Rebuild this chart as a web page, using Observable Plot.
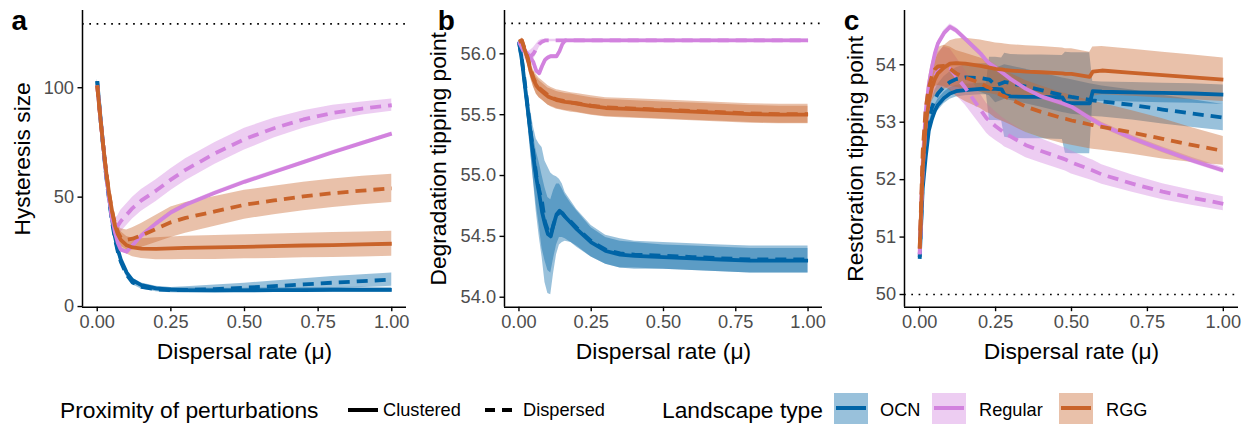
<!DOCTYPE html>
<html><head><meta charset="utf-8">
<script src="https://cdn.jsdelivr.net/npm/d3@7"></script>
<script src="https://cdn.jsdelivr.net/npm/@observablehq/plot@0.6"></script>
<style>
body{margin:0;background:#fff;font-family:"Liberation Sans",Arial,sans-serif;}
#root{position:relative;width:1248px;height:424px;overflow:hidden;background:#fff;}
.panel{position:absolute;top:0;}
.lg{position:absolute;white-space:nowrap;top:396px;height:28px;line-height:28px;color:#000;}
.box{position:absolute;top:393px;width:34px;height:31px;}
.box div{position:absolute;left:2px;right:2px;top:13px;height:4px;}
</style></head><body><div id="root"></div>
<script>
// ---------- categories ----------
const landscapeTypes = ["OCN", "Regular", "RGG"];
const typeColors = ["#0064A6", "#D282DE", "#C9632A"];
const proximities = ["Clustered", "Dispersed"];
const xTicks = [0, 0.25, 0.5, 0.75, 1];
const xTitle = "Dispersal rate (\u03bc)";
const legendTitles = ["Proximity of perturbations", "Landscape type"];

// ---------- panel a : hysteresis size ----------
const xA = [0, 0.01, 0.02, 0.03, 0.04, 0.05, 0.06, 0.07, 0.08, 0.1, 0.12, 0.15, 0.2, 0.25, 0.3, 0.4, 0.5, 0.6, 0.7, 0.8, 0.9, 1.0];
const aOcnClu   = [103, 88, 74, 61, 50, 40, 32, 26, 21.5, 15.5, 12, 9.8, 8.3, 7.7, 7.5, 7.4, 7.4, 7.5, 7.5, 7.6, 7.6, 7.6];
const aOcnCluSd = [1, 1, 1, 1, 1, 1, 1, 1, 1, 1, 1, 1, 1, 1, 1, 1, 1, 1, 1.1, 1.1, 1.2, 1.2];
const aOcnDis   = [103, 87, 73, 60, 49, 39, 31, 25, 20.5, 14.5, 11, 9, 7.8, 7.5, 7.6, 8.0, 8.6, 9.3, 10.1, 10.9, 11.6, 12.3];
const aOcnDisSd = [1, 1, 1, 1, 1, 1, 1, 1, 1, 1, 1, 1, 1, 1.2, 1.4, 1.8, 2.1, 2.4, 2.6, 2.8, 2.9, 3];
const aRegClu   = [101, 87, 74, 61, 50, 41, 34, 29, 26, 25, 28, 32.5, 38, 43, 46.5, 52, 57, 61.5, 66, 70.5, 74.8, 79];
const aRegCluSd = [0.8, 0.8, 0.8, 0.8, 0.8, 0.8, 0.8, 0.8, 0.8, 0.8, 0.8, 0.8, 0.8, 0.8, 0.8, 0.8, 0.8, 0.8, 0.8, 0.8, 0.8, 0.8];
const aRegDis   = [101, 87, 74, 61, 50, 40, 36, 37, 39, 42, 45, 48.5, 53, 58, 62.5, 70, 76.5, 81.5, 85.5, 88.5, 90.5, 92];
const aRegDisSd = [1, 1.5, 2, 2.5, 3, 3.5, 4, 4.5, 5, 5, 5, 5, 5, 5, 5, 5, 5, 4.5, 4, 3.5, 3, 2.8];
const aRggClu   = [101, 87, 74, 62, 52, 44, 37, 33, 30.5, 28, 27, 26.5, 26.4, 26.6, 26.8, 27, 27.3, 27.6, 27.9, 28.1, 28.4, 28.7];
const aRggCluSd = [1, 1, 1.2, 1.5, 2, 2.5, 3, 3.5, 3.8, 4, 4.2, 4.5, 5, 5.2, 5.3, 5.5, 5.5, 5.6, 5.6, 5.7, 5.7, 5.7];
const aRggDis   = [101, 87, 74, 62, 52, 44, 38, 34, 31.5, 30.5, 31, 32.5, 35.5, 38.5, 40.5, 43.5, 46.5, 48.5, 50.3, 51.8, 53, 54];
const aRggDisSd = [1, 1, 1.2, 1.5, 2, 2.5, 3, 3.5, 4, 4.5, 5, 5.5, 6.2, 7, 7, 6.8, 6.6, 6.5, 6.5, 6.5, 6.5, 6.5];

// ---------- panel b : degradation tipping point ----------
const xB = [0, 0.01, 0.02, 0.03, 0.04, 0.05, 0.06, 0.07, 0.08, 0.09, 0.1, 0.11, 0.12, 0.13, 0.14, 0.15, 0.16, 0.18, 0.2, 0.25, 0.3, 0.35, 0.4, 0.5, 0.6, 0.7, 0.8, 0.9, 1];
const bOcnClu   = [56.1, 55.95, 55.75, 55.55, 55.35, 55.15, 54.98, 54.85, 54.7, 54.6, 54.52, 54.5, 54.6, 54.68, 54.71, 54.69, 54.66, 54.61, 54.56, 54.45, 54.38, 54.35, 54.34, 54.33, 54.32, 54.31, 54.3, 54.3, 54.3];
const bOcnCluSd = [0, 0.03, 0.06, 0.1, 0.14, 0.18, 0.22, 0.26, 0.3, 0.3, 0.3, 0.3, 0.28, 0.25, 0.22, 0.2, 0.18, 0.16, 0.15, 0.12, 0.11, 0.11, 0.11, 0.1, 0.1, 0.1, 0.1, 0.1, 0.1];
const bOcnDis   = [56.1, 55.96, 55.77, 55.57, 55.37, 55.18, 55.0, 54.88, 54.78, 54.62, 54.55, 54.52, 54.6, 54.67, 54.7, 54.69, 54.66, 54.62, 54.57, 54.46, 54.39, 54.36, 54.35, 54.34, 54.33, 54.32, 54.31, 54.31, 54.31];
const bOcnDisSd = [0, 0.04, 0.08, 0.12, 0.17, 0.22, 0.3, 0.38, 0.45, 0.5, 0.52, 0.5, 0.4, 0.32, 0.27, 0.24, 0.2, 0.17, 0.15, 0.13, 0.12, 0.12, 0.11, 0.11, 0.11, 0.11, 0.11, 0.11, 0.11];
const bRegClu   = [56.1, 56.07, 56.03, 56.0, 55.97, 55.93, 55.86, 55.84, 55.9, 55.95, 55.97, 55.98, 55.98, 55.98, 56.02, 56.08, 56.11, 56.11, 56.11, 56.11, 56.11, 56.11, 56.11, 56.11, 56.11, 56.11, 56.11, 56.11, 56.11];
const bRegCluSd = [0, 0.015, 0.015, 0.015, 0.015, 0.015, 0.015, 0.015, 0.015, 0.015, 0.015, 0.015, 0.015, 0.015, 0.015, 0.015, 0.01, 0.01, 0.01, 0.01, 0.01, 0.01, 0.01, 0.01, 0.01, 0.01, 0.01, 0.01, 0.01];
const bRegDis   = [56.1, 56.05, 56.0, 55.97, 55.98, 56.0, 56.04, 56.08, 56.1, 56.11, 56.11, 56.11, 56.11, 56.11, 56.11, 56.11, 56.11, 56.11, 56.11, 56.11, 56.11, 56.11, 56.11, 56.11, 56.11, 56.11, 56.11, 56.11, 56.11];
const bRegDisSd = [0, 0.03, 0.04, 0.05, 0.05, 0.05, 0.04, 0.03, 0.02, 0.01, 0.01, 0.01, 0.01, 0.01, 0.01, 0.01, 0.01, 0.01, 0.01, 0.01, 0.01, 0.01, 0.01, 0.01, 0.01, 0.01, 0.01, 0.01, 0.01];
const bRggClu   = [56.1, 56.11, 56.03, 55.96, 55.86, 55.79, 55.74, 55.71, 55.69, 55.67, 55.65, 55.64, 55.63, 55.62, 55.615, 55.61, 55.605, 55.6, 55.59, 55.57, 55.555, 55.55, 55.545, 55.535, 55.525, 55.515, 55.505, 55.5, 55.5];
const bRggCluSd = [0, 0.02, 0.04, 0.05, 0.06, 0.06, 0.07, 0.07, 0.07, 0.07, 0.07, 0.07, 0.07, 0.07, 0.07, 0.07, 0.07, 0.07, 0.07, 0.07, 0.07, 0.07, 0.07, 0.07, 0.07, 0.07, 0.07, 0.07, 0.07];
const bRggDis   = [56.1, 56.11, 56.04, 55.97, 55.88, 55.8, 55.75, 55.72, 55.7, 55.68, 55.66, 55.645, 55.635, 55.625, 55.62, 55.615, 55.61, 55.6, 55.595, 55.575, 55.56, 55.555, 55.55, 55.54, 55.53, 55.52, 55.51, 55.505, 55.505];
const bRggDisSd = [0, 0.02, 0.04, 0.05, 0.06, 0.07, 0.08, 0.08, 0.08, 0.08, 0.08, 0.08, 0.08, 0.08, 0.08, 0.08, 0.08, 0.08, 0.08, 0.08, 0.08, 0.08, 0.08, 0.08, 0.08, 0.08, 0.08, 0.08, 0.08];

// ---------- panel c : restoration tipping point ----------
const xC = [0, 0.01, 0.02, 0.03, 0.04, 0.05, 0.06, 0.08, 0.1, 0.12, 0.15, 0.2, 0.22, 0.23, 0.25, 0.27, 0.28, 0.3, 0.35, 0.4, 0.47, 0.48, 0.5, 0.56, 0.57, 0.6, 0.7, 0.8, 0.9, 1];
const cOcnClu   = [50.62, 51.85, 52.4, 52.85, 53.05, 53.2, 53.3, 53.42, 53.5, 53.54, 53.56, 53.58, 53.58, 53.58, 53.58, 53.57, 53.47, 53.45, 53.44, 53.44, 53.43, 53.34, 53.33, 53.33, 53.54, 53.53, 53.52, 53.51, 53.5, 53.48];
const cOcnCluSd = [0.02, 0.08, 0.1, 0.1, 0.1, 0.1, 0.1, 0.1, 0.1, 0.1, 0.1, 0.1, 0.1, 0.55, 0.55, 0.55, 0.73, 0.73, 0.73, 0.73, 0.73, 0.88, 0.88, 0.88, 0.17, 0.17, 0.17, 0.17, 0.17, 0.17];
const cOcnDis   = [50.65, 52.0, 52.7, 53.05, 53.25, 53.4, 53.5, 53.62, 53.7, 53.75, 53.78, 53.77, 53.75, 53.74, 53.64, 53.68, 53.7, 53.68, 53.62, 53.56, 53.47, 53.46, 53.44, 53.39, 53.38, 53.36, 53.3, 53.22, 53.15, 53.08];
const cOcnDisSd = [0.02, 0.08, 0.1, 0.12, 0.14, 0.15, 0.16, 0.17, 0.18, 0.2, 0.22, 0.25, 0.27, 0.28, 0.3, 0.3, 0.3, 0.3, 0.3, 0.3, 0.3, 0.3, 0.3, 0.28, 0.28, 0.27, 0.26, 0.25, 0.24, 0.23];
const cRegClu   = [50.7, 52.3, 53.2, 53.65, 53.95, 54.2, 54.37, 54.55, 54.66, 54.6, 54.45, 54.2, 54.07, 54.02, 53.95, 53.87, 53.83, 53.75, 53.58, 53.45, 53.33, 53.31, 53.27, 53.07, 53.04, 52.95, 52.72, 52.52, 52.33, 52.16];
const cRegCluSd = [0.02, 0.05, 0.05, 0.05, 0.05, 0.05, 0.05, 0.05, 0.05, 0.05, 0.05, 0.05, 0.05, 0.05, 0.05, 0.05, 0.05, 0.05, 0.05, 0.05, 0.05, 0.05, 0.05, 0.05, 0.05, 0.05, 0.05, 0.05, 0.05, 0.05];
const cRegDis   = [50.7, 52.2, 52.95, 53.4, 53.65, 53.8, 53.9, 53.96, 53.93, 53.8, 53.6, 53.22, 53.07, 53.02, 52.93, 52.85, 52.81, 52.75, 52.6, 52.5, 52.37, 52.35, 52.3, 52.18, 52.16, 52.09, 51.93, 51.79, 51.68, 51.58];
const cRegDisSd = [0.02, 0.1, 0.15, 0.2, 0.25, 0.3, 0.32, 0.35, 0.35, 0.33, 0.3, 0.27, 0.26, 0.26, 0.25, 0.24, 0.24, 0.23, 0.22, 0.21, 0.2, 0.2, 0.2, 0.18, 0.18, 0.17, 0.15, 0.14, 0.13, 0.12];
const cRggClu   = [50.8, 52.2, 52.95, 53.35, 53.6, 53.75, 53.85, 53.95, 54.02, 54.03, 54.02, 53.98, 53.96, 53.95, 53.93, 53.92, 53.91, 53.9, 53.88, 53.87, 53.85, 53.84, 53.84, 53.79, 53.88, 53.9, 53.86, 53.82, 53.78, 53.74];
const cRggCluSd = [0.02, 0.1, 0.15, 0.2, 0.25, 0.3, 0.33, 0.38, 0.4, 0.42, 0.44, 0.45, 0.45, 0.45, 0.45, 0.45, 0.45, 0.45, 0.45, 0.45, 0.44, 0.44, 0.44, 0.43, 0.43, 0.42, 0.41, 0.4, 0.39, 0.38];
const cRggDis   = [50.8, 52.5, 53.25, 53.6, 53.8, 53.92, 53.97, 53.98, 53.93, 53.85, 53.78, 53.68, 53.62, 53.6, 53.52, 53.47, 53.45, 53.4, 53.27, 53.18, 53.07, 53.06, 53.03, 52.96, 52.95, 52.92, 52.82, 52.71, 52.6, 52.5];
const cRggDisSd = [0.02, 0.1, 0.15, 0.2, 0.25, 0.3, 0.33, 0.36, 0.38, 0.4, 0.42, 0.44, 0.45, 0.45, 0.45, 0.45, 0.45, 0.45, 0.45, 0.45, 0.44, 0.44, 0.43, 0.42, 0.42, 0.41, 0.38, 0.35, 0.3, 0.25];

// ---------- build ----------
const FONT = '"Liberation Sans", Arial, Helvetica, sans-serif';
const colorOf = t => typeColors[landscapeTypes.indexOf(t)];

function rows(xs, ys, sds, type, prox) {
  return ys.map((v, i) => ({x: xs[i], y: v, lo: v - sds[i], hi: v + sds[i], type, prox}));
}

function panel(cfg) {
  const marks = [];
  const groups = cfg.series.map(s => ({type: s[0], prox: s[1], data: rows(cfg.xs, s[2], s[3], s[0], s[1])}));
  marks.push(Plot.ruleY([cfg.refY], {stroke: "#000", strokeWidth: 1.7, strokeDasharray: "1.7,5.6"}));
  for (const g of groups) {
    marks.push(Plot.areaY(g.data, {x: "x", y1: "lo", y2: "hi", fill: colorOf(g.type), fillOpacity: 0.4, curve: "linear"}));
  }
  for (const g of groups) {
    marks.push(Plot.lineY(g.data, {x: "x", y: "y", stroke: colorOf(g.type), strokeWidth: 3.8,
      strokeDasharray: g.prox === "Dispersed" ? "11,7" : null, strokeLinecap: "butt", strokeLinejoin: "round", curve: "linear"}));
  }
  marks.push(Plot.axisX({ticks: xTicks, tickFormat: d3.format(".2f"), tickSize: 4.5, tickPadding: 3, label: null,
    stroke: "#000", strokeWidth: 1.4, fill: "#4d4d4d", fontSize: 18.2}));
  marks.push(Plot.axisY({ticks: cfg.yTicks, tickFormat: cfg.yFormat, tickSize: 4.5, tickPadding: 4, label: null,
    stroke: "#000", strokeWidth: 1.4, fill: "#4d4d4d", fontSize: 18.2}));
  marks.push(Plot.ruleX([-0.05], {stroke: "#000", strokeWidth: 1.5}));
  marks.push(Plot.ruleY([cfg.yDomain[0]], {stroke: "#000", strokeWidth: 1.5}));
  marks.push(Plot.text([xTitle], {text: d => d, frameAnchor: "bottom", textAnchor: "middle", dy: 52, lineAnchor: "bottom", fontSize: 22.8, fill: "#000"}));
  marks.push(Plot.text([cfg.yTitle], {text: d => d, frameAnchor: "left", textAnchor: "middle", lineAnchor: "middle", rotate: -90, dx: cfg.yTitleDx, fontSize: 22.8, fill: "#000"}));
  marks.push(Plot.text([cfg.letter], {text: d => d, frameAnchor: "top-left", dx: cfg.letterDx, dy: 19, textAnchor: "start", lineAnchor: "bottom", fontSize: 28, fontWeight: "bold", fill: "#000"}));

  const svg = Plot.plot({
    width: cfg.width, height: 380,
    marginLeft: cfg.marginLeft, marginRight: 10, marginTop: 10, marginBottom: 73.3,
    style: {fontFamily: FONT, fontSize: "18.2px", background: "transparent", overflow: "visible"},
    x: {domain: [-0.05, 1.05]},
    y: {domain: cfg.yDomain},
    marks
  });
  const div = document.createElement("div");
  div.className = "panel";
  div.style.left = cfg.left + "px";
  div.appendChild(svg);
  document.getElementById("root").appendChild(div);
}

panel({
  left: 0, width: 416, marginLeft: 82, xs: xA,
  yDomain: [-0.3, 135.3], yTicks: [0, 50, 100], yFormat: d3.format("d"), refY: 129.2,
  yTitle: "Hysteresis size", yTitleDx: -59.5, letter: "a", letterDx: -71,
  series: [
    ["OCN", "Clustered", aOcnClu, aOcnCluSd], ["OCN", "Dispersed", aOcnDis, aOcnDisSd],
    ["Regular", "Clustered", aRegClu, aRegCluSd], ["Regular", "Dispersed", aRegDis, aRegDisSd],
    ["RGG", "Clustered", aRggClu, aRggCluSd], ["RGG", "Dispersed", aRggDis, aRggDisSd]
  ]
});
panel({
  left: 420, width: 412, marginLeft: 84, xs: xB,
  yDomain: [53.918, 56.356], yTicks: [54, 54.5, 55, 55.5, 56], yFormat: d3.format(".1f"), refY: 56.25,
  yTitle: "Degradation tipping point", yTitleDx: -65.5, letter: "b", letterDx: -66.7,
  series: [
    ["OCN", "Clustered", bOcnClu, bOcnCluSd], ["OCN", "Dispersed", bOcnDis, bOcnDisSd],
    ["Regular", "Clustered", bRegClu, bRegCluSd], ["Regular", "Dispersed", bRegDis, bRegDisSd],
    ["RGG", "Clustered", bRggClu, bRggCluSd], ["RGG", "Dispersed", bRggDis, bRggDisSd]
  ]
});
panel({
  left: 830, width: 418, marginLeft: 74, xs: xC,
  yDomain: [49.779, 54.945], yTicks: [50, 51, 52, 53, 54], yFormat: d3.format("d"), refY: 50,
  yTitle: "Restoration tipping point", yTitleDx: -49, letter: "c", letterDx: -60.7,
  series: [
    ["OCN", "Clustered", cOcnClu, cOcnCluSd], ["OCN", "Dispersed", cOcnDis, cOcnDisSd],
    ["Regular", "Clustered", cRegClu, cRegCluSd], ["Regular", "Dispersed", cRegDis, cRegDisSd],
    ["RGG", "Clustered", cRggClu, cRggCluSd], ["RGG", "Dispersed", cRggDis, cRggDisSd]
  ]
});

// ---------- legend ----------
const root = document.getElementById("root");
function addText(txt, left, size) {
  const d = document.createElement("div");
  d.className = "lg"; d.textContent = txt;
  d.style.left = left + "px"; d.style.fontSize = size + "px";
  root.appendChild(d);
}
function addBar(left, width, color) {
  const d = document.createElement("div");
  d.style.cssText = `position:absolute;left:${left}px;top:408px;width:${width}px;height:4px;background:${color}`;
  root.appendChild(d);
}
addText(legendTitles[0], 60, 22.8);
addBar(348, 30, "#000");
addText(proximities[0], 383, 18.2);
addBar(485, 10, "#000"); addBar(502, 10, "#000");
addText(proximities[1], 523, 18.2);
addText(legendTitles[1], 662, 22.8);
const boxLefts = [834, 932, 1059];
const textLefts = [880, 979, 1106];
landscapeTypes.forEach((t, i) => {
  const c = d3.color(typeColors[i]);
  const b = document.createElement("div");
  b.className = "box";
  b.style.left = boxLefts[i] + "px";
  b.style.background = `rgba(${c.r},${c.g},${c.b},0.4)`;
  const ln = document.createElement("div");
  ln.style.background = typeColors[i];
  b.appendChild(ln);
  root.appendChild(b);
  addText(t, textLefts[i], 18.2);
});
</script></body></html>
